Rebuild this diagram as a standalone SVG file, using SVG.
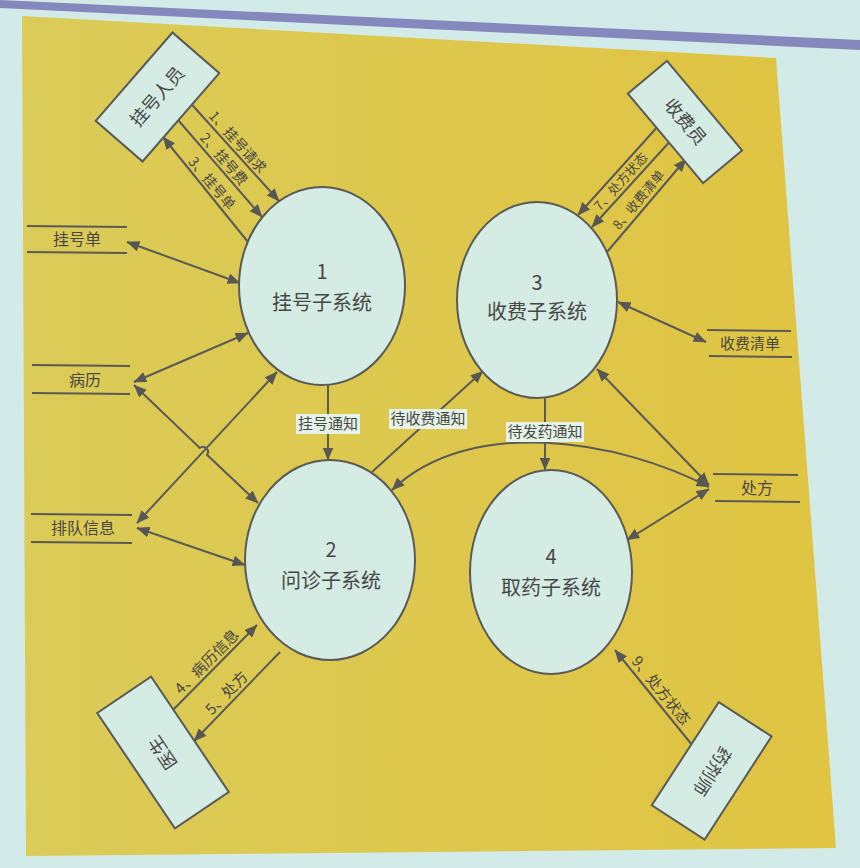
<svg xmlns="http://www.w3.org/2000/svg" width="860" height="868" viewBox="0 0 860 868">
<defs>
<linearGradient id="yel" x1="0" y1="0" x2="1" y2="0">
<stop offset="0" stop-color="#dbcb58"/>
<stop offset="1" stop-color="#e0c442"/>
</linearGradient>
<marker id="ah" viewBox="0 0 12 10" refX="11.5" refY="5" markerWidth="13" markerHeight="11" markerUnits="userSpaceOnUse" orient="auto-start-reverse">
<path d="M0,0 L12,5 L0,10 z" fill="#575753"/>
</marker>
</defs>
<style>
.proc{fill:#d4ece4;stroke:#5a5a56;stroke-width:2}
.ent{fill:#d4ece4;stroke:#5a5a56;stroke-width:2}
.store{stroke:#5a5a56;stroke-width:2}
.c{fill:none;stroke:#5a5a56;stroke-width:2}
.one{marker-end:url(#ah)}
.two{marker-start:url(#ah);marker-end:url(#ah)}
text{font-family:"Noto Sans CJK SC","Noto Sans",sans-serif;fill:#474745;text-anchor:middle}
.pn{font-size:20px}
.en{font-size:18px}
.sn{font-size:16px}
.el{font-size:15px}
.es{font-size:14px}
.et{font-size:13px}
.lb{fill:#e6f4e8}
</style>
<rect width="860" height="868" fill="#d3ebe8"/>
<polygon points="0,0 860,40 860,50 0,8" fill="#8588bd"/>
<polygon points="22,16 776,58 836,848 26,856" fill="url(#yel)"/>

<g id="connectors">
<path class="c one" d="M185,97 L279,201"/>
<path class="c one" d="M172,113 L262,217"/>
<path class="c one" d="M248,242 L163,137"/>
<path class="c two" d="M127,242 L240,283"/>
<path class="c two" d="M134,382 L248,333"/>
<path class="c two" d="M134,385 L199.8,448 A5,5 0 0 1 207,454.8 L258,503"/>
<path class="c two" d="M137,523 L277,372"/>
<path class="c two" d="M137,528 L245,565"/>
<path class="c one" d="M328,385 L328,460"/>
<path class="c one" d="M372,472 L483,371"/>
<path class="c one" d="M545,398 L545,470"/>
<path class="c two" d="M709,487 C620,440 470,415 392,490"/>
<path class="c two" d="M709,485 L597,369"/>
<path class="c two" d="M709,489 L627,540"/>
<path class="c two" d="M706,342 L618,302"/>
<path class="c one" d="M660,124 L578,215"/>
<path class="c one" d="M674,137 L592,227"/>
<path class="c one" d="M607,252 L686,159"/>
<path class="c one" d="M170,713 L257,625"/>
<path class="c one" d="M280,652 L194,741"/>
<path class="c one" d="M697,751 L615,650"/>
<text class="es" transform="translate(231,148) rotate(48)" y="-4">1、挂号请求</text>
<text class="es" transform="translate(217,165) rotate(49)" y="-4">2、挂号费</text>
<text class="es" transform="translate(205,189) rotate(50)" y="-4">3、挂号单</text>
<text class="et" transform="translate(628,188) rotate(-48)" y="-5">7、处方状态</text>
<text class="et" transform="translate(646,206) rotate(-50)" y="-5">8、收费清单</text>
<text class="el" transform="translate(214,669) rotate(-45)" y="-5">4、病历信息</text>
<text class="el" transform="translate(234,700) rotate(-46)" y="-5">5、处方</text>
<text class="el" transform="translate(653,697) rotate(51)" y="-5">9、处方状态</text>
<rect class="lb" x="296" y="414" width="64" height="20"/>
<text class="el" x="328" y="429">挂号通知</text>
<rect class="lb" x="389" y="409" width="78" height="20"/>
<text class="el" x="428" y="424">待收费通知</text>
<rect class="lb" x="506" y="422" width="78" height="20"/>
<text class="el" x="545" y="437">待发药通知</text>
</g>

<g id="p1"><ellipse class="proc" cx="322" cy="286" rx="83" ry="99"/><text class="pn" x="322" y="279">1</text><text class="pn" x="322" y="310">挂号子系统</text></g>
<g id="p3"><ellipse class="proc" cx="537" cy="300" rx="80" ry="98"/><text class="pn" x="537" y="290">3</text><text class="pn" x="537" y="319">收费子系统</text></g>
<g id="p2"><ellipse class="proc" cx="330" cy="560" rx="85" ry="100"/><text class="pn" x="331" y="557">2</text><text class="pn" x="331" y="588">问诊子系统</text></g>
<g id="p4"><ellipse class="proc" cx="551" cy="572" rx="81" ry="102"/><text class="pn" x="551" y="564">4</text><text class="pn" x="551" y="595">取药子系统</text></g>

<g id="e_reg" transform="translate(157.5,97) rotate(-49)"><rect class="ent" x="-58.5" y="-31" width="117" height="62"/><text class="en" y="6">挂号人员</text></g>
<g id="e_cash" transform="translate(685,122) rotate(50)"><rect class="ent" x="-58.5" y="-25.5" width="117" height="51"/><text class="en" y="6">收费员</text></g>
<g id="e_doc" transform="translate(163,752.5) rotate(56)"><rect class="ent" x="-69.5" y="-32.5" width="139" height="65"/><text class="en" transform="rotate(180)" y="6">医生</text></g>
<g id="e_pharm" transform="translate(711.7,770.8) rotate(-57)"><rect class="ent" x="-61.5" y="-31.5" width="123" height="63"/><text class="en" transform="rotate(180)" y="6">药剂师</text></g>

<g id="s_reg"><line class="store" x1="27" y1="226" x2="127" y2="227"/><line class="store" x1="27" y1="252" x2="127" y2="253"/><text class="sn" x="77" y="245">挂号单</text></g>
<g id="s_rec"><line class="store" x1="32" y1="365" x2="130" y2="366"/><line class="store" x1="32" y1="393" x2="130" y2="394"/><text class="sn" x="85" y="386">病历</text></g>
<g id="s_queue"><line class="store" x1="31" y1="514" x2="132" y2="515"/><line class="store" x1="31" y1="542" x2="132" y2="543"/><text class="sn" x="83" y="534">排队信息</text></g>
<g id="s_bill"><line class="store" x1="707" y1="330" x2="791" y2="331"/><line class="store" x1="709" y1="356" x2="792" y2="357"/><text class="el" x="750" y="349">收费清单</text></g>
<g id="s_rx"><line class="store" x1="713" y1="474" x2="798" y2="475"/><line class="store" x1="715" y1="501" x2="800" y2="502"/><text class="sn" x="757" y="494">处方</text></g>
</svg>
